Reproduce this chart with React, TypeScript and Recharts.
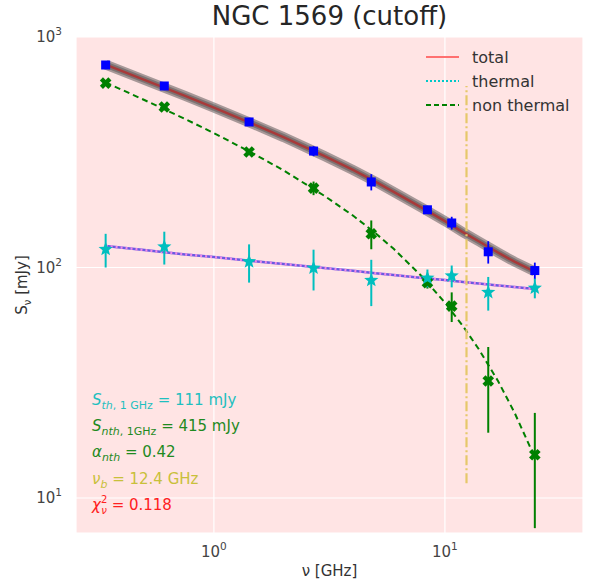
import { ComposedChart, Line, Scatter, XAxis, YAxis, CartesianGrid, ErrorBar, ReferenceLine } from 'recharts';

// measured points
const freqs = [0.34, 0.61, 1.42, 2.7, 4.8, 8.4, 10.7, 15.4, 24.5];
const totalFlux = [756, 613, 428, 320, 235, 178, 156, 117, 97];
const totalErr = [10, 10, 8, 16, 19, 4, 10, 13, 8];
const thermalFlux = [120, 123, 106, 99.5, 88, 90, 92, 78, 81.5];
const thermalErr = [20, 20, 20, 20, 20, 8, 10, 13, 8];
const nonThermalFlux = [631, 497, 317, 221, 140, 86, 68, 32.2, 15.4];
const nonThermalErr = [10, 8, 8, 15, 20, 5, 10, 13, 8];

// fitted curves
const modelFreqs = [0.34, 0.5, 0.75, 1, 1.5, 2, 3, 4, 5, 6, 8, 10, 12, 14, 17, 20, 24.5];
const totalModel = [759, 652, 555, 494, 417, 368, 305, 265, 236, 213, 181, 159, 142, 130, 116, 106, 96];
const thermalModel = [124, 119, 114, 111, 106.5, 103.6, 99.5, 96.7, 94.5, 92.8, 90.1, 88.2, 86.6, 85.3, 83.6, 82.3, 80.6];
const nonThermalModel = [635, 533, 441, 383, 310, 264, 205, 168, 141, 120.5, 90.9, 70.4, 55.5, 44.3, 32.1, 23.5, 15.0];

const breakFreq = 12.4;
const breakRange = [11.6, 613];

const xTicks = [1, 10];
const yTicks = [10, 100, 1000];

const rows = (xs: number[], ys: number[], errs?: number[]) =>
  xs.map((nu, i) => ({ nu, s: ys[i], err: errs ? errs[i] : 0 }));

const font = '"DejaVu Sans", sans-serif';

const PowTick = ({ x, y, payload, anchor, dx, dy }: any) => {
  const exp = Math.round(Math.log10(payload.value));
  return (
    <text x={x + dx} y={y + dy} textAnchor={anchor} fill="#444" fontSize={15} fontFamily={font}>
      10<tspan dy={-7} fontSize={10.5}>{exp}</tspan>
    </text>
  );
};

const Square = ({ cx, cy }: any) => <rect x={cx - 4.5} y={cy - 4.5} width={9} height={9} fill="#0000ff" />;

const Cross = ({ cx, cy }: any) => (
  <g transform={`translate(${cx},${cy}) rotate(45)`} fill="#008000">
    <rect x={-6} y={-2.2} width={12} height={4.4} />
    <rect x={-2.2} y={-6} width={4.4} height={12} />
  </g>
);

const Star = ({ cx, cy }: any) => {
  const pts: string[] = [];
  for (let i = 0; i < 10; i++) {
    const r = i % 2 === 0 ? 7.5 : 3.2;
    const a = -Math.PI / 2 + (i * Math.PI) / 5;
    pts.push(`${cx + r * Math.cos(a)},${cy + r * Math.sin(a)}`);
  }
  return <polygon points={pts.join(' ')} fill="#00bfbf" />;
};

const legendItems = [
  { label: 'total', color: '#ff7070', dash: undefined },
  { label: 'thermal', color: '#00c8c8', dash: '2 2' },
  { label: 'non thermal', color: '#008000', dash: '5 3' },
];

const sub = { fontSize: 11, position: 'relative' as const, top: 4, lineHeight: 0, verticalAlign: 'baseline' };
const sup = { fontSize: 10, position: 'relative' as const, top: -7, lineHeight: 0, verticalAlign: 'baseline' };

export default function App() {
  return (
    <div style={{ position: 'absolute', left: 0, top: 0, width: 590, height: 584, background: '#fff', fontFamily: font }}>
      <ComposedChart width={590} height={584} margin={{ top: 37, right: 7, bottom: 21, left: 16 }}>
        <CartesianGrid fill="#ffe4e4" stroke="#ffffff" strokeWidth={1.2} />
        <XAxis
          dataKey="nu"
          type="number"
          scale="log"
          domain={[0.253, 39.6]}
          allowDataOverflow
          ticks={xTicks}
          height={30}
          axisLine={false}
          tickLine={false}
          tick={(p: any) => <PowTick {...p} anchor="middle" dx={0} dy={16} />}
        />
        <YAxis
          dataKey="s"
          type="number"
          scale="log"
          domain={[7.05, 1000]}
          allowDataOverflow
          ticks={yTicks}
          width={60}
          axisLine={false}
          tickLine={false}
          tick={(p: any) => <PowTick {...p} anchor="end" dx={-6} dy={5} />}
        />
        <Line data={rows(modelFreqs, totalModel)} dataKey="s" stroke="#3c3c3c" strokeOpacity={0.45} strokeWidth={10} dot={false} isAnimationActive={false} />
        <Line data={rows(modelFreqs, totalModel)} dataKey="s" stroke="#3c3c3c" strokeOpacity={0.4} strokeWidth={6} dot={false} isAnimationActive={false} />
        <Line data={rows(modelFreqs, totalModel)} dataKey="s" stroke="#a83a3a" strokeWidth={2.5} dot={false} isAnimationActive={false} />
        <Line data={rows(modelFreqs, thermalModel)} dataKey="s" stroke="#6a5ae0" strokeWidth={2.5} dot={false} isAnimationActive={false} />
        <Line data={rows(modelFreqs, thermalModel)} dataKey="s" stroke="#f08ae8" strokeWidth={2.5} strokeDasharray="2 3" dot={false} isAnimationActive={false} />
        <Line data={rows(modelFreqs, nonThermalModel)} dataKey="s" stroke="#008000" strokeWidth={2} strokeDasharray="6 4" dot={false} isAnimationActive={false} />
        <ReferenceLine
          segment={[{ x: breakFreq, y: breakRange[0] }, { x: breakFreq, y: breakRange[1] }]}
          stroke="#e6c86a"
          strokeWidth={2.2}
          strokeDasharray="10 3 2 3"
          ifOverflow="visible"
        />
        <Scatter data={rows(freqs, totalFlux, totalErr)} shape={Square} isAnimationActive={false}>
          <ErrorBar dataKey="err" direction="y" width={0} stroke="#0000ff" strokeWidth={1.8} />
        </Scatter>
        <Scatter data={rows(freqs, nonThermalFlux, nonThermalErr)} shape={Cross} isAnimationActive={false}>
          <ErrorBar dataKey="err" direction="y" width={0} stroke="#008000" strokeWidth={2} />
        </Scatter>
        <Scatter data={rows(freqs, thermalFlux, thermalErr)} shape={Star} isAnimationActive={false}>
          <ErrorBar dataKey="err" direction="y" width={0} stroke="#00bfbf" strokeWidth={2} />
        </Scatter>
      </ComposedChart>

      <div style={{ position: 'absolute', left: 76, width: 507, top: 1, textAlign: 'center', fontSize: 26, color: '#262626' }}>
        NGC 1569 (cutoff)
      </div>
      <div style={{ position: 'absolute', left: 76, width: 507, top: 562, textAlign: 'center', fontSize: 15, color: '#333' }}>
        ν [GHz]
      </div>
      <div style={{ position: 'absolute', left: 22, top: 285, transform: 'translate(-50%,-50%) rotate(-90deg)', fontSize: 15, color: '#333', whiteSpace: 'nowrap' }}>
        S<span style={{ ...sub, fontSize: 10 }}>ν</span> [mJy]
      </div>

      <div style={{ position: 'absolute', left: 424, top: 45 }}>
        {legendItems.map((it) => (
          <div key={it.label} style={{ display: 'flex', alignItems: 'center', height: 24, fontSize: 16, color: '#333' }}>
            <svg width={36} height={10} style={{ marginRight: 12 }}>
              <line x1={2} y1={5} x2={35} y2={5} stroke={it.color} strokeWidth={2} strokeDasharray={it.dash} />
            </svg>
            {it.label}
          </div>
        ))}
      </div>

      <div style={{ position: 'absolute', left: 92, top: 387, fontSize: 15, lineHeight: '26.2px', whiteSpace: 'nowrap' }}>
        <div style={{ color: '#1fbfbf' }}>
          <i>S</i><span style={sub}><i>th</i>, 1 GHz</span> = 111 mJy
        </div>
        <div style={{ color: '#1f8a1f' }}>
          <i>S</i><span style={sub}><i>nth</i>, 1GHz</span> = 415 mJy
        </div>
        <div style={{ color: '#1f8a1f' }}>
          <i>α</i><span style={sub}><i>nth</i></span> = 0.42
        </div>
        <div style={{ color: '#c8c03a' }}>
          <i>ν</i><span style={sub}><i>b</i></span> = 12.4 GHz
        </div>
        <div style={{ color: '#ff2020' }}>
          <i>χ</i><span style={sup}>2</span><span style={{ ...sub, fontSize: 10, marginLeft: -6 }}><i>ν</i></span> = 0.118
        </div>
      </div>
    </div>
  );
}
